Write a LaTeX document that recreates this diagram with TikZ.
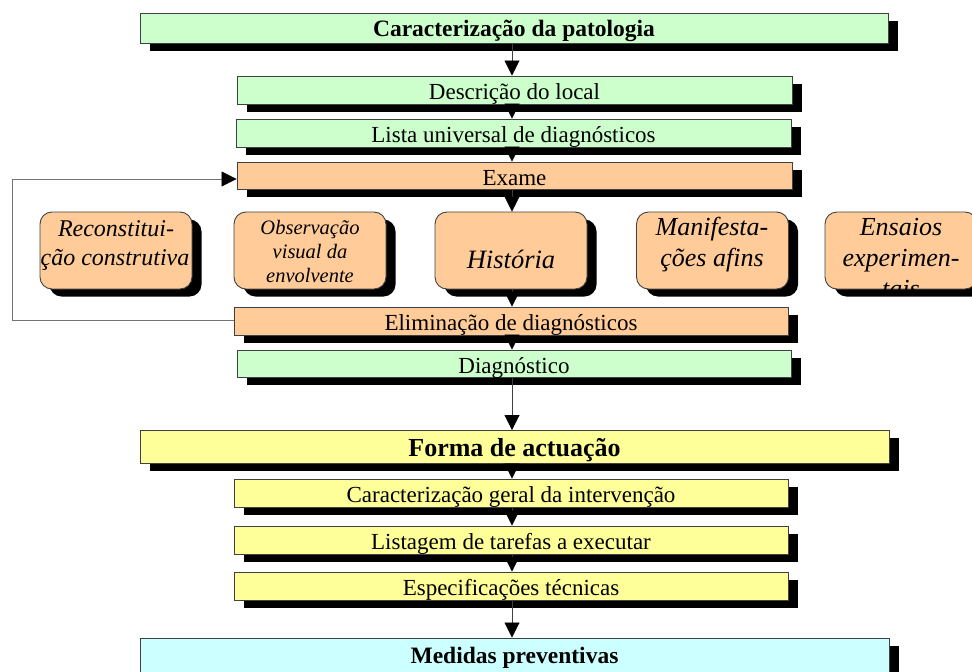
\documentclass[tikz,border=0pt]{standalone}
\usepackage{fontspec}
\setmainfont{Liberation Serif}
\usetikzlibrary{shadows,arrows.meta}
\definecolor{cgreen}{HTML}{CCFFCC}
\definecolor{corange}{HTML}{FFCC99}
\definecolor{cyellow}{HTML}{FFFF99}
\definecolor{ccyan}{HTML}{CCFFFF}
\begin{document}
\begin{tikzpicture}[x=1pt,y=-1pt,
  pbox/.style={draw=black!75, line width=0.9pt, inner sep=0pt,
    drop shadow={shadow xshift=9.5pt, shadow yshift=-7.5pt, opacity=1, fill=black}},
  rbox/.style={pbox, rounded corners=12pt, fill=corange, minimum width=152pt, minimum height=77pt},
  reg/.style={font=\fontsize{23}{27}\selectfont, text height=20pt, text depth=1pt},
  bld/.style={font=\bfseries\fontsize{23.5}{28}\selectfont, text height=17pt, text depth=1pt},
  itl/.style={inner sep=0pt, anchor=base},
  arr/.style={draw=black!75, line width=0.8pt, -{Triangle[width=15pt,length=15pt,color=black]}},
  fb/.style={draw=black!55, line width=0.8pt, -{Triangle[width=15pt,length=15pt,color=black]}}
]
\path[use as bounding box] (0,0) rectangle (972,672);
% main boxes
\node[pbox, fill=cgreen, minimum width=748pt, minimum height=30pt, bld] (b1) at (514,28) {Caracterização da patologia};
\node[pbox, fill=cgreen, minimum width=555pt, minimum height=28pt, reg] (b2) at (514.5,90) {Descrição do local};
\node[pbox, fill=cgreen, minimum width=555pt, minimum height=28pt, reg] (b3) at (513.5,133) {Lista universal de diagnósticos};
\node[pbox, fill=corange, minimum width=555pt, minimum height=27pt, reg] (b4) at (514.5,175.5) {Exame};
% rounded boxes
\node[rbox] (r1) at (116,250.5) {};
\node[rbox] (r2) at (310,250.5) {};
\node[rbox] (r3) at (511,250.5) {};
\node[rbox] (r4) at (712.5,250.5) {};
\node[rbox] (r5) at (901,250.5) {};
\begin{scope}[font=\itshape\fontsize{24}{29}\selectfont]
\node[itl] (r1a) at (116,236) {Reconstitui-};
\node[itl] (r1b) at (115,265) {ção construtiva};
\end{scope}
\begin{scope}[font=\itshape\fontsize{20.5}{24}\selectfont]
\node[itl] (r2a) at (310,234) {Observação};
\node[itl] (r2b) at (310,258.5) {visual da};
\node[itl] (r2c) at (310,282.5) {envolvente};
\end{scope}
\node[itl, font=\itshape\fontsize{26.5}{31}\selectfont] (r3a) at (511,268) {História};
\begin{scope}[font=\itshape\fontsize{26}{31}\selectfont]
\node[itl] (r4a) at (712,235) {Manifesta-};
\node[itl] (r4b) at (712,266.5) {ções afins};
\end{scope}
\begin{scope}[font=\itshape\fontsize{26}{31}\selectfont]
\clip[rounded corners=12pt] (r5.north west) rectangle (r5.south east);
\node[itl] (r5a) at (901,235) {Ensaios};
\node[itl] (r5b) at (901,266) {experimen-};
\node[itl] (r5c) at (901,297) {tais};
\end{scope}
\node[pbox, fill=corange, minimum width=554pt, minimum height=28pt, reg] (b5) at (511,321) {Eliminação de diagnósticos};
\node[pbox, fill=cgreen, minimum width=554pt, minimum height=27pt, reg] (b6) at (514,363.5) {Diagnóstico};
\node[pbox, fill=cyellow, minimum width=749pt, minimum height=33pt, font=\bfseries\fontsize{26}{31}\selectfont, text height=19pt, text depth=1pt] (b7) at (514.5,447) {Forma de actuação};
\node[pbox, fill=cyellow, minimum width=554pt, minimum height=28pt, reg] (b8) at (511,493) {Caracterização geral da intervenção};
\node[pbox, fill=cyellow, minimum width=554pt, minimum height=28pt, reg] (b9) at (511,540) {Listagem de tarefas a executar};
\node[pbox, fill=cyellow, minimum width=554pt, minimum height=28pt, reg] (b10) at (511,586) {Especificações técnicas};
\node[pbox, fill=ccyan, minimum width=749pt, minimum height=36pt, font=\bfseries\fontsize{23.5}{28}\selectfont, text height=15pt, text depth=1pt] (b11) at (514.5,656) {Medidas preventivas};
% connectors
\coordinate (ax) at (512,0);
\draw[arr] (b1.south -| ax) -- (b2.north -| ax);
\draw[arr] (b2.south -| ax) -- (b3.north -| ax);
\draw[arr] (b3.south -| ax) -- (b4.north -| ax);
\draw[arr] (b4.south -| ax) -- (r3.north -| ax);
\draw[arr] (r3.south -| ax) -- (b5.north -| ax);
\draw[arr] (b5.south -| ax) -- (b6.north -| ax);
\draw[arr] (b6.south -| ax) -- (b7.north -| ax);
\draw[arr] (b7.south -| ax) -- (b8.north -| ax);
\draw[arr] (b8.south -| ax) -- (b9.north -| ax);
\draw[arr] (b9.south -| ax) -- (b10.north -| ax);
\draw[arr] (b10.south -| ax) -- (b11.north -| ax);
% feedback
\coordinate (fbx) at (12,0);
\coordinate (b4w) at ([yshift=-3.5pt]b4.west);
\draw[fb] ([yshift=1pt]b5.west) -- ([yshift=1pt]b5.west -| fbx) |- (b4w);
\end{tikzpicture}
\end{document}
